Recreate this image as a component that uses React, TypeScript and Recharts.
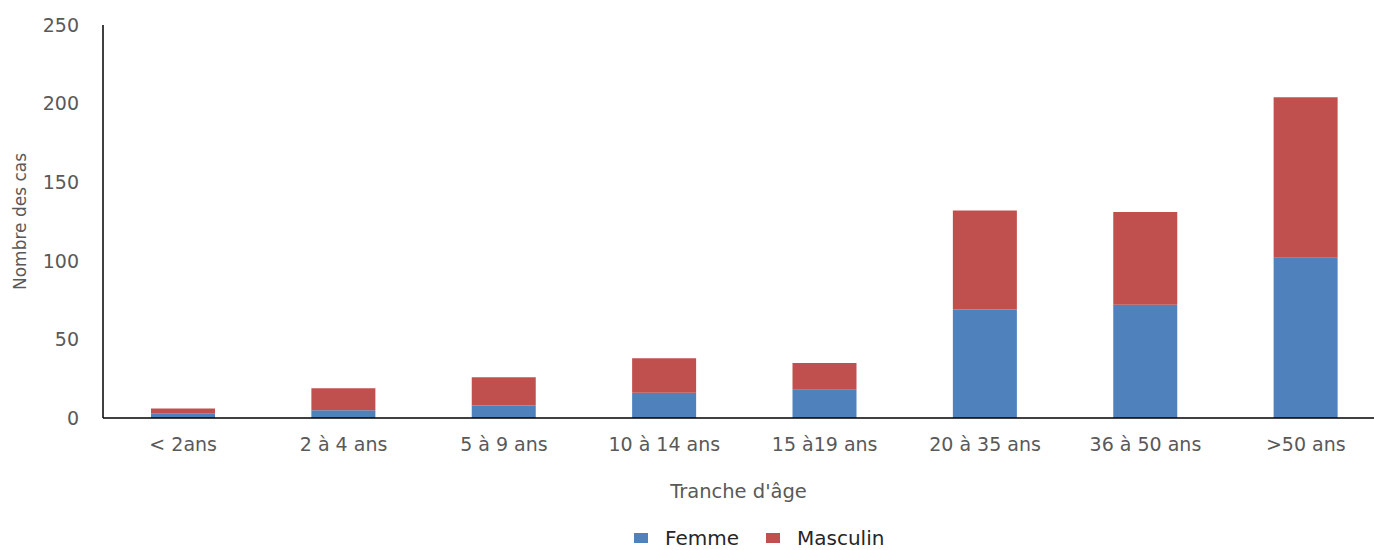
import React from "react";
import { BarChart, Bar, XAxis, YAxis, Legend, Label } from "recharts";

// Age groups and case counts per sex
const ageGroups = [
  "< 2ans",
  "2 à 4 ans",
  "5 à 9 ans",
  "10 à 14 ans",
  "15 à19 ans",
  "20 à 35 ans",
  "36 à 50 ans",
  ">50 ans",
];
const femme = [3, 5, 8, 16, 18, 69, 72, 102];
const masculin = [3, 14, 18, 22, 17, 63, 59, 102];
const yTicks = [0, 50, 100, 150, 200, 250];

const data = ageGroups.map((tranche, i) => ({
  tranche,
  Femme: femme[i],
  Masculin: masculin[i],
}));

const FONT = "'DejaVu Sans', sans-serif";
const TICK_GREY = "#595959";

const YTitle = (props: any) => {
  const vb = props.viewBox || { x: 0, y: 0, width: 0, height: 0 };
  const cx = vb.x + 20;
  const cy = vb.y + vb.height / 2;
  return (
    <text
      x={cx}
      y={cy}
      transform={`rotate(-90 ${cx} ${cy})`}
      textAnchor="middle"
      dominantBaseline="central"
      fill={TICK_GREY}
      fontSize={17}
      fontFamily={FONT}
    >
      Nombre des cas
    </text>
  );
};

const XTitle = (props: any) => {
  const vb = props.viewBox || { x: 0, y: 0, width: 0, height: 0 };
  const cx = vb.x + vb.width / 2 - 6;
  const by = vb.y + vb.height - 28;
  return (
    <text
      x={cx}
      y={by}
      textAnchor="middle"
      fill={TICK_GREY}
      fontSize={19.5}
      fontFamily={FONT}
    >
      Tranche d'âge
    </text>
  );
};

const LegendContent = (props: any) => {
  const items = props.payload || [];
  return (
    <div
      style={{
        height: 24,
        lineHeight: "24px",
        display: "flex",
        alignItems: "center",
        paddingLeft: 634,
        fontFamily: FONT,
        fontSize: 20,
        color: "#262626",
      }}
    >
      {items.map((it: any) => (
        <div
          key={it.value}
          style={{ display: "flex", alignItems: "center", marginRight: 27 }}
        >
          <span
            style={{
              display: "inline-block",
              width: 14,
              height: 10,
              background: it.color,
              marginRight: 17,
            }}
          />
          <span>{it.value}</span>
        </div>
      ))}
    </div>
  );
};

export default function App() {
  return (
    <div
      style={{
        position: "fixed",
        left: 0,
        top: 0,
        width: 1374,
        height: 550,
        overflow: "hidden",
        background: "#fff",
      }}
    >
      <BarChart
        width={1386}
        height={550}
        data={data}
        margin={{ top: 25, right: 0, bottom: 0, left: 0 }}
        barSize={64}
      >
        <XAxis
          dataKey="tranche"
          height={108}
          tickLine={false}
          tickSize={0}
          tickMargin={20}
          axisLine={{ stroke: "#000", strokeWidth: 1.5 }}
          tick={{ fill: TICK_GREY, fontSize: 19, fontFamily: FONT }}
          interval={0}
        >
          <Label content={<XTitle />} />
        </XAxis>
        <YAxis
          width={103}
          domain={[0, 250]}
          ticks={yTicks}
          tickLine={false}
          tickSize={0}
          tickMargin={24}
          axisLine={{ stroke: "#000", strokeWidth: 1.5 }}
          tick={{ fill: TICK_GREY, fontSize: 19, fontFamily: FONT }}
        >
          <Label content={<YTitle />} />
        </YAxis>
        <Legend
          verticalAlign="bottom"
          align="left"
          content={<LegendContent />}
        />
        <Bar
          dataKey="Femme"
          stackId="cas"
          fill="#4F81BD"
          isAnimationActive={false}
        />
        <Bar
          dataKey="Masculin"
          stackId="cas"
          fill="#C0504D"
          isAnimationActive={false}
        />
      </BarChart>
    </div>
  );
}
